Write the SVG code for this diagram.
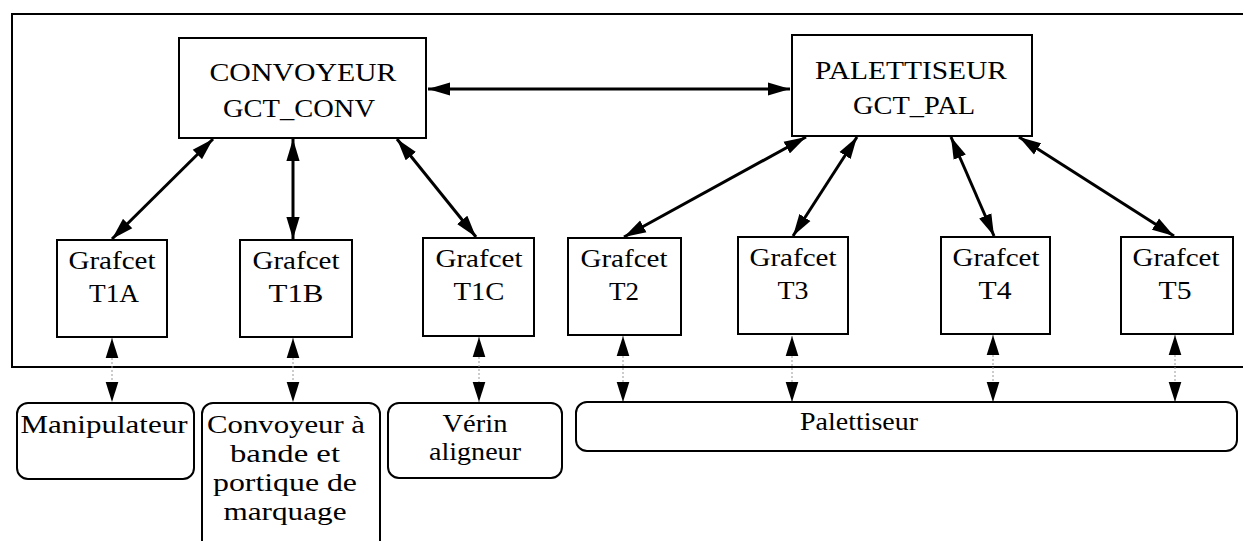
<svg xmlns="http://www.w3.org/2000/svg" width="1243" height="541" viewBox="0 0 1243 541">
<defs>
<style>
.box{fill:#fff;stroke:#000;stroke-width:2}
.rbox{fill:#fff;stroke:#000;stroke-width:2}
.frame{fill:none;stroke:#000;stroke-width:2}
.t{font-family:'Liberation Serif','Times New Roman',serif;font-size:25px;fill:#000;text-anchor:middle}
.link{stroke:#000;stroke-width:3;fill:none;marker-start:url(#ah);marker-end:url(#ah)}
.io{stroke:#999;stroke-width:1;stroke-dasharray:2 2;fill:none;marker-start:url(#ah2);marker-end:url(#ah2)}
</style>
<marker id="ah" markerUnits="userSpaceOnUse" markerWidth="22" markerHeight="14" viewBox="0 0 20 12" refX="20" refY="6" orient="auto-start-reverse"><path d="M0,0 L20,6 L0,12 Z" fill="#000"/></marker>
<marker id="ah2" markerUnits="userSpaceOnUse" markerWidth="20" markerHeight="14" viewBox="0 0 19 12" refX="19" refY="6" orient="auto-start-reverse"><path d="M0,0 L19,6 L0,12 Z" fill="#000"/></marker>
</defs>
<rect width="1243" height="541" fill="#fff"/>
<path class="frame" d="M1243,14 H12 V367 H1243"/>
<g id="connectors">
<line class="link" x1="428" y1="89" x2="790" y2="89"/>
<line class="link" x1="213" y1="139" x2="112" y2="239"/>
<line class="link" x1="293" y1="139" x2="293" y2="239"/>
<line class="link" x1="397" y1="139" x2="476" y2="237"/>
<line class="link" x1="806" y1="137" x2="624" y2="237"/>
<line class="link" x1="857" y1="137" x2="793" y2="236"/>
<line class="link" x1="951" y1="137" x2="994" y2="236"/>
<line class="link" x1="1019" y1="137" x2="1174" y2="236"/>
<line class="io" x1="112" y1="338" x2="112" y2="402"/>
<line class="io" x1="293" y1="338" x2="293" y2="402"/>
<line class="io" x1="479" y1="337" x2="479" y2="402"/>
<line class="io" x1="623" y1="336" x2="623" y2="402"/>
<line class="io" x1="792" y1="336" x2="792" y2="402"/>
<line class="io" x1="993" y1="335" x2="993" y2="402"/>
<line class="io" x1="1175" y1="335" x2="1175" y2="402"/>
</g>
<g id="conv">
<rect class="box" x="179" y="38" width="247" height="100"/>
<text class="t" x="303" y="81" textLength="187" lengthAdjust="spacingAndGlyphs">CONVOYEUR</text>
<text class="t" x="299" y="117" textLength="152" lengthAdjust="spacingAndGlyphs">GCT_CONV</text>
</g>
<g id="pal">
<rect class="box" x="792" y="35" width="240" height="101"/>
<text class="t" x="911" y="79" textLength="192" lengthAdjust="spacingAndGlyphs">PALETTISEUR</text>
<text class="t" x="914" y="114" textLength="122" lengthAdjust="spacingAndGlyphs">GCT_PAL</text>
</g>
<g id="t1a">
<rect class="box" x="57" y="240" width="110" height="97"/>
<text class="t" x="112" y="269" textLength="87" lengthAdjust="spacingAndGlyphs">Grafcet</text>
<text class="t" x="114" y="302" textLength="50" lengthAdjust="spacingAndGlyphs">T1A</text>
</g>
<g id="t1b">
<rect class="box" x="240" y="240" width="112" height="97"/>
<text class="t" x="296" y="269" textLength="87" lengthAdjust="spacingAndGlyphs">Grafcet</text>
<text class="t" x="296" y="302" textLength="55" lengthAdjust="spacingAndGlyphs">T1B</text>
</g>
<g id="t1c">
<rect class="box" x="423" y="238" width="111" height="98"/>
<text class="t" x="479" y="267" textLength="87" lengthAdjust="spacingAndGlyphs">Grafcet</text>
<text class="t" x="479" y="300" textLength="51" lengthAdjust="spacingAndGlyphs">T1C</text>
</g>
<g id="t2">
<rect class="box" x="568" y="238" width="113" height="97"/>
<text class="t" x="624" y="267" textLength="87" lengthAdjust="spacingAndGlyphs">Grafcet</text>
<text class="t" x="624" y="300" textLength="30" lengthAdjust="spacingAndGlyphs">T2</text>
</g>
<g id="t3">
<rect class="box" x="738" y="237" width="110" height="97"/>
<text class="t" x="793" y="266" textLength="87" lengthAdjust="spacingAndGlyphs">Grafcet</text>
<text class="t" x="793" y="299" textLength="31" lengthAdjust="spacingAndGlyphs">T3</text>
</g>
<g id="t4">
<rect class="box" x="941" y="237" width="109" height="97"/>
<text class="t" x="996" y="266" textLength="87" lengthAdjust="spacingAndGlyphs">Grafcet</text>
<text class="t" x="995" y="299" textLength="33" lengthAdjust="spacingAndGlyphs">T4</text>
</g>
<g id="t5">
<rect class="box" x="1121" y="237" width="112" height="97"/>
<text class="t" x="1176" y="266" textLength="87" lengthAdjust="spacingAndGlyphs">Grafcet</text>
<text class="t" x="1175" y="299" textLength="33" lengthAdjust="spacingAndGlyphs">T5</text>
</g>
<g id="manip">
<rect class="rbox" x="17" y="403" width="177" height="76" rx="11"/>
<text class="t" x="104" y="433" textLength="167" lengthAdjust="spacingAndGlyphs">Manipulateur</text>
</g>
<g id="convb">
<rect class="rbox" x="202" y="403" width="178" height="148" rx="11"/>
<text class="t" x="286" y="433" textLength="158" lengthAdjust="spacingAndGlyphs">Convoyeur à</text>
<text class="t" x="285" y="462" textLength="110" lengthAdjust="spacingAndGlyphs">bande et</text>
<text class="t" x="285" y="491" textLength="144" lengthAdjust="spacingAndGlyphs">portique de</text>
<text class="t" x="285" y="520" textLength="123" lengthAdjust="spacingAndGlyphs">marquage</text>
</g>
<g id="verin">
<rect class="rbox" x="388" y="403" width="174" height="75" rx="11"/>
<text class="t" x="475" y="432" textLength="65" lengthAdjust="spacingAndGlyphs">Vérin</text>
<text class="t" x="475" y="460" textLength="92" lengthAdjust="spacingAndGlyphs">aligneur</text>
</g>
<g id="palb">
<rect class="rbox" x="576" y="402" width="661" height="49" rx="11"/>
<text class="t" x="859" y="430" textLength="118" lengthAdjust="spacingAndGlyphs">Palettiseur</text>
</g>
</svg>
